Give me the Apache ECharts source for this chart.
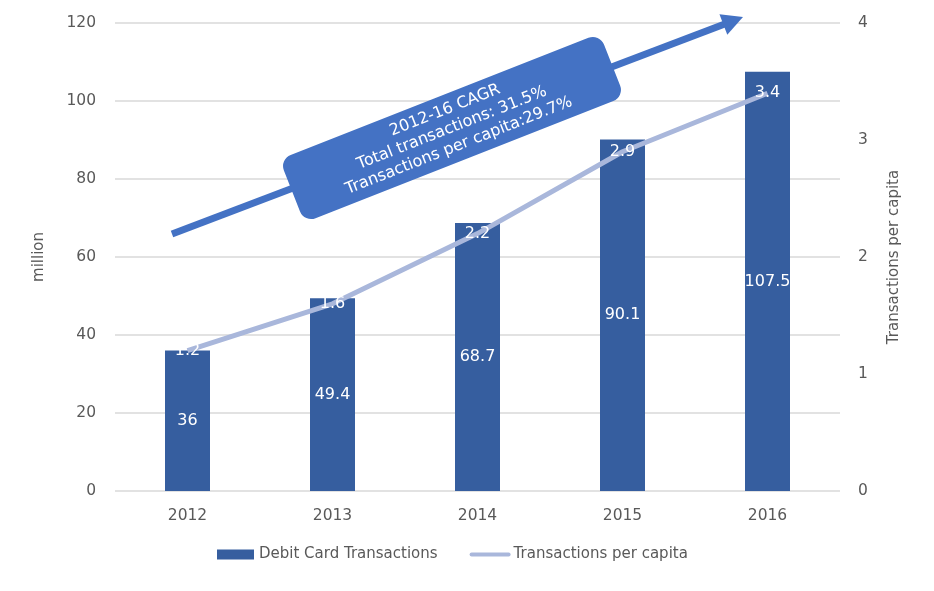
<!DOCTYPE html>
<html>
<head>
<meta charset="utf-8">
<script src="https://cdn.jsdelivr.net/npm/echarts@6/dist/echarts.min.js"></script>
<style>
  html, body { margin: 0; padding: 0; background: #fff; }
  #chart { width: 934px; height: 591px; }
</style>
</head>
<body>
<div id="chart"></div>
<script>
// data
const years = ['2012', '2013', '2014', '2015', '2016'];
const debitTransactions = [36, 49.4, 68.7, 90.1, 107.5];
const perCapita = [1.2, 1.6, 2.2, 2.9, 3.4];
const cagrLines = ['2012-16 CAGR', 'Total transactions: 31.5%', 'Transactions per capita:29.7%'];

const font = '"DejaVu Sans", Verdana, sans-serif';
const grey = '#595959';

const chart = echarts.init(document.getElementById('chart'));

// arrow geometry (annotation, not data)
const arrowLen = Math.sqrt(571 * 571 + 217 * 217);
const arrowRot = Math.atan2(217, 571);

const option = {
  animation: false,
  textStyle: { fontFamily: font },
  grid: { left: 115, right: 94, top: 23, bottom: 100 },
  legend: {
    bottom: 24,
    left: 212,
    itemWidth: 37,
    itemHeight: 10,
    itemGap: 32,
    textStyle: { color: grey, fontSize: 15, fontFamily: font },
    data: [
      { name: 'Debit Card Transactions', icon: 'rect' },
      {
        name: 'Transactions per capita',
        itemStyle: { opacity: 0 },
        lineStyle: { width: 4, cap: 'round' }
      }
    ]
  },
  xAxis: {
    type: 'category',
    data: years,
    axisLine: { show: false },
    axisTick: { show: false },
    axisLabel: { color: grey, fontSize: 15.5, margin: 17, fontFamily: font }
  },
  yAxis: [
    {
      type: 'value',
      name: 'million',
      nameLocation: 'middle',
      nameGap: 68,
      nameTextStyle: { color: grey, fontSize: 15, fontFamily: font },
      min: 0, max: 120, interval: 20,
      axisLine: { show: false },
      axisTick: { show: false },
      axisLabel: { color: grey, fontSize: 15.5, margin: 19, fontFamily: font },
      splitLine: { lineStyle: { color: '#D9D9D9', width: 1.5 } }
    },
    {
      type: 'value',
      name: 'Transactions per capita',
      nameLocation: 'middle',
      nameGap: 47,
      nameTextStyle: { color: grey, fontSize: 15, fontFamily: font },
      min: 0, max: 4, interval: 1,
      axisLine: { show: false },
      axisTick: { show: false },
      axisLabel: { color: grey, fontSize: 15.5, margin: 18, fontFamily: font },
      splitLine: { show: false }
    }
  ],
  series: [
    {
      name: 'Debit Card Transactions',
      type: 'bar',
      data: debitTransactions,
      barWidth: 45,
      itemStyle: { color: '#365E9F' },
      label: { show: true, position: 'inside', color: '#fff', fontSize: 16, fontFamily: font }
    },
    {
      name: 'Transactions per capita',
      type: 'line',
      yAxisIndex: 1,
      data: perCapita,
      symbol: 'circle',
      symbolSize: 0,
      showSymbol: true,
      lineStyle: { color: '#A9B7DB', width: 5 },
      itemStyle: { color: '#A9B7DB' },
      label: { show: true, position: 'inside', color: '#fff', fontSize: 16, fontFamily: font }
    }
  ],
  graphic: [
    {
      type: 'group',
      x: 172, y: 234,
      rotation: arrowRot,
      z: 100,
      children: [
        {
          type: 'line',
          z: 100,
          shape: { x1: 0, y1: 0, x2: arrowLen - 16, y2: 0 },
          style: { stroke: '#4472C4', lineWidth: 7 }
        },
        {
          type: 'polygon',
          z: 100,
          shape: { points: [[arrowLen, 0], [arrowLen - 21, -11], [arrowLen - 21, 11]] },
          style: { fill: '#4472C4' }
        }
      ]
    },
    {
      type: 'group',
      x: 452, y: 128,
      rotation: 0.375,
      z: 101,
      children: [
        {
          type: 'rect',
          z: 101,
          shape: { x: -172, y: -34, width: 344, height: 68, r: 12 },
          style: { fill: '#4472C4' }
        },
        {
          type: 'text',
          z: 102,
          x: 0, y: 0,
          style: {
            text: cagrLines.join('\n'),
            fill: '#fff',
            fontSize: 16,
            fontFamily: font,
            lineHeight: 19,
            align: 'center',
            verticalAlign: 'middle'
          }
        }
      ]
    }
  ]
};

chart.setOption(option);
</script>
</body>
</html>
